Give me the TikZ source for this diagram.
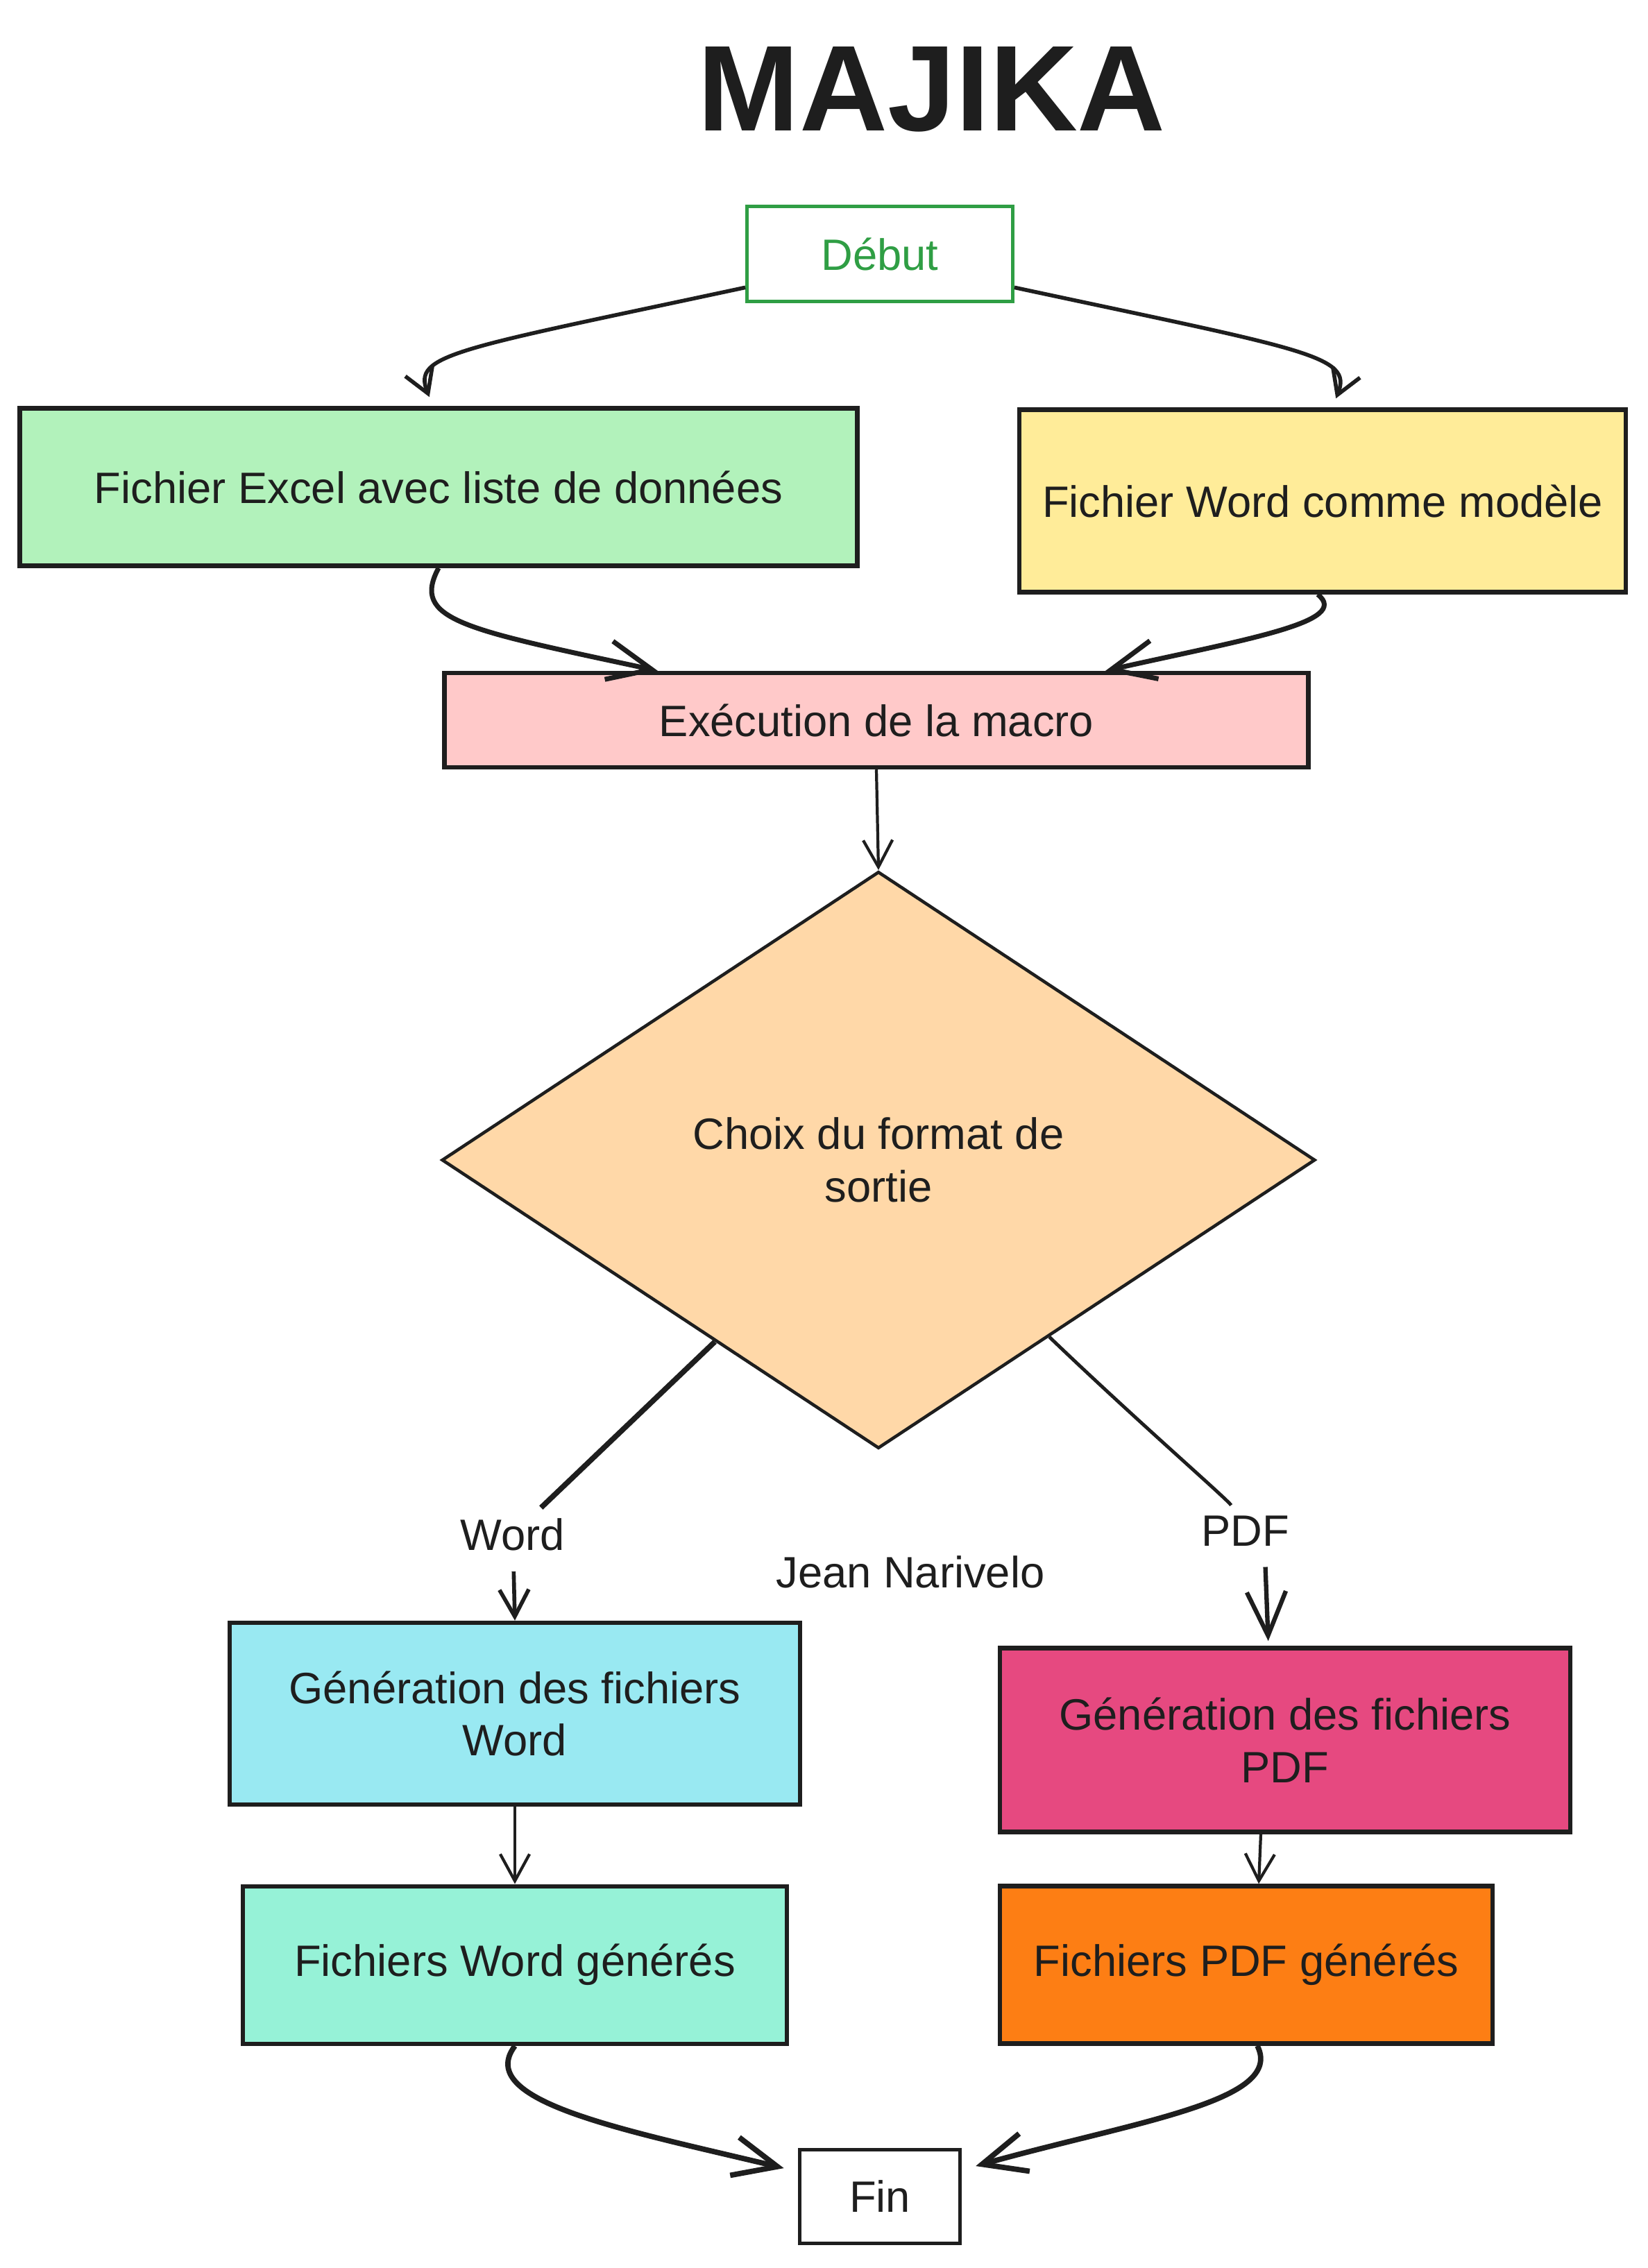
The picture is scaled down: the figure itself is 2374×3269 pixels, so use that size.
\documentclass[tikz,border=0pt]{standalone}
\usepackage{fontspec}
\setmainfont{Liberation Sans}
\usepackage{tikz}
\usetikzlibrary{arrows.meta,positioning,shapes.geometric}

\definecolor{ink}{HTML}{1E1E1E}
\definecolor{startgreen}{HTML}{2F9E44}
\definecolor{excelfill}{HTML}{B2F2BB}
\definecolor{wordfill}{HTML}{FFEC99}
\definecolor{macrofill}{HTML}{FFC9C9}
\definecolor{choixfill}{HTML}{FFD8A8}
\definecolor{genwordfill}{HTML}{99E9F2}
\definecolor{genpdffill}{HTML}{E64980}
\definecolor{fwordfill}{HTML}{96F2D7}
\definecolor{fpdffill}{HTML}{FD7E14}

\begin{document}
\begin{tikzpicture}[x=0.01cm,y=-0.01cm,
            font=\fontsize{18}{21.5}\selectfont,text=ink,
            box/.style={draw=ink,rectangle,line width=1.8pt,align=center,inner sep=0},
            startbox/.style={box,draw=startgreen,text=startgreen,line width=1.3pt},
            choice/.style={draw=ink,diamond,line width=1.3pt,align=center,inner sep=0},
            lab/.style={inner sep=0.15cm},
            conn/.style={draw=ink,->,line width=1.6pt,>={Straight Barb[length=11pt,width=12pt]}},
            small/.style={>={Straight Barb[length=10pt,width=12pt]}},
            big/.style={>={Straight Barb[length=18pt,width=16pt]}}
          ]
          \path[use as bounding box,fill=white] (0,0) rectangle (2374,3269);

          %title
          \node (title) at (1343,129) {\fontsize{50}{50}\selectfont\bfseries MAJIKA};

          %sources
          \node[startbox,minimum width=3.83cm,minimum height=1.37cm] (debut) at (1268,366) {Début};
          \node[box,fill=excelfill,minimum width=12.06cm,minimum height=2.27cm] (excel) at (632,702) {Fichier Excel avec liste de données};
          \node[box,fill=wordfill,minimum width=8.73cm,minimum height=2.63cm] (word) at (1906,722) {Fichier Word comme modèle};
          \node[box,fill=macrofill,minimum width=12.44cm,minimum height=1.36cm] (exec) at (1263,1038) {Exécution de la macro};

          %choice
          \node[choice,fill=choixfill,minimum width=12.58cm,minimum height=8.31cm] (choix) at (1266,1672) {Choix du format de\\sortie};
          \node[lab] (lword) at (739,2212) {Word};
          \node[lab] (lpdf) at (1795,2207) {PDF};
          \node (auteur) at (1312,2266) {Jean Narivelo};

          %outputs
          \node[box,fill=genwordfill,minimum width=8.21cm,minimum height=2.62cm] (genword) at (742,2470) {Génération des fichiers\\Word};
          \node[box,fill=genpdffill,minimum width=8.21cm,minimum height=2.65cm] (genpdf) at (1852,2508) {Génération des fichiers\\PDF};
          \node[box,fill=fwordfill,minimum width=7.83cm,minimum height=2.27cm,below of=genword,node distance=3.62cm] (fword) {Fichiers Word générés};
          \node[box,fill=fpdffill,minimum width=7.10cm,minimum height=2.27cm] (fpdf) at (1796,2832) {Fichiers PDF générés};
          \node[box,line width=1.3pt,minimum width=2.31cm,minimum height=1.35cm] (fin) at (1268,3166) {Fin};

          %arrows
          \draw[conn,small,shorten >=4pt] (debut.194) .. controls +(-420,90) and +(-30,-75) .. ([xshift=-0.08cm]excel.north);
          \draw[conn,small,shorten >=4pt] (debut.346) .. controls +(420,90) and +(30,-75) .. ([xshift=0.14cm]word.north);
          \draw[conn,big,line width=2pt] (excel.south) .. controls +(-40,75) and +(-280,-60) .. ([xshift=-3.15cm]exec.north);
          \draw[conn,big,line width=2pt] ([xshift=-0.07cm]word.south) .. controls +(50,40) and +(200,-45) .. ([xshift=3.3cm]exec.north);
          \draw[conn,line width=1.2pt] (exec.south) -- (choix.north);
          \draw[line width=2.2pt,draw=ink] (choix.228) -- (lword);
          \draw[conn,shorten <=4pt] (lword) -- (genword.north);
          \draw[line width=1.4pt,draw=ink] (choix.314) .. controls +(125,120) and +(-25,-45) .. (lpdf);
          \draw[conn,big,line width=1.8pt,shorten <=4pt,shorten >=2pt] ([xshift=0.28cm]lpdf.south) -- ([xshift=-0.24cm]genpdf.north);
          \draw[conn,line width=1.2pt] (genword) -- (fword);
          \draw[conn,line width=1.2pt] ([xshift=-0.35cm]genpdf.south) -- ([xshift=0.18cm]fpdf.north);
          \draw[conn,big,line width=2.2pt,shorten >=6pt] (fword.south) .. controls +(-60,80) and +(-250,-60) .. (fin.163);
          \draw[conn,big,line width=2.2pt,shorten >=6pt] ([xshift=0.16cm]fpdf.south) .. controls +(40,80) and +(250,-70) .. (fin.18);

      \end{tikzpicture}
\end{document}
